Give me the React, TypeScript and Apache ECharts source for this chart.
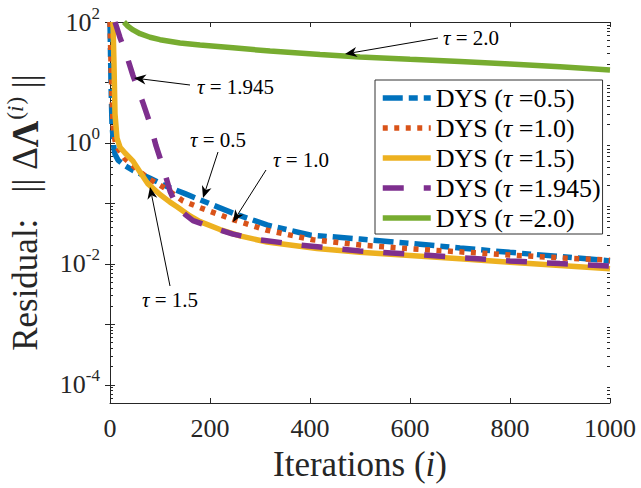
import React, { useEffect, useRef } from 'react';
import * as echarts from 'echarts';

const FONT = 'Liberation Serif';
const AX = '#262626';

// ---- data ----
const tauLabels = ['0.5', '1.0', '1.5', '1.945', '2.0'];
const seriesColors = ['#0072BD', '#D95319', '#EDB120', '#7E2F8E', '#77AC30'];

const iterTau05 = [0, 2, 4, 8, 10, 16, 30, 46, 80, 114, 150, 180, 246, 314, 400, 500, 600, 700, 800, 900, 1000];
const resTau05 = [100, 10, 2, 0.8, 0.65, 0.52, 0.42, 0.35, 0.26, 0.19, 0.145, 0.115, 0.069, 0.044, 0.03, 0.0257, 0.0219, 0.0183, 0.0155, 0.0132, 0.0112];

const iterTau10 = [0, 3, 6, 10, 14, 30, 60, 80, 114, 146, 180, 246, 314, 406, 500, 600, 700, 800, 900, 1000];
const resTau10 = [100, 10, 2, 1.1, 0.85, 0.55, 0.33, 0.25, 0.17, 0.11, 0.085, 0.054, 0.036, 0.025, 0.0205, 0.0178, 0.0158, 0.014, 0.0126, 0.0115];

const iterTau15 = [6, 8, 10, 14, 20, 30, 46, 60, 76, 100, 120, 134, 160, 180, 220, 260, 314, 414, 500, 600, 700, 800, 900, 1000];
const resTau15 = [100, 20, 3, 1.2, 0.85, 0.68, 0.5, 0.33, 0.21, 0.14, 0.105, 0.088, 0.062, 0.05, 0.037, 0.029, 0.023, 0.018, 0.0155, 0.0138, 0.0121, 0.0106, 0.0094, 0.0083];

const iterTau1945 = [10, 20, 30, 46, 66, 80, 92, 106, 120, 134, 150, 166, 200, 246, 300, 380, 500, 600, 700, 800, 900, 1000];
const resTau1945 = [100, 55, 34, 13, 4.6, 2.1, 0.9, 0.4, 0.16, 0.088, 0.066, 0.052, 0.041, 0.031, 0.025, 0.0205, 0.0163, 0.0145, 0.0127, 0.0112, 0.0101, 0.0092];

const iterTau20 = [28, 36, 46, 60, 80, 100, 140, 180, 246, 320, 420, 500, 600, 700, 800, 900, 1000];
const resTau20 = [100, 85, 74, 64, 56, 51, 45, 41.5, 37.5, 33, 29, 26.4, 24.2, 22.2, 20.2, 18.2, 16.1];

const xTicks = [0, 200, 400, 600, 800, 1000];
const yLabelTicks = [1e-4, 1e-2, 1, 100];
const yDecadeTicks = [1e-4, 1e-3, 1e-2, 1e-1, 1, 10, 100];
const yMin = 5e-5;
const yMax = 100;

const seriesIters = [iterTau05, iterTau10, iterTau15, iterTau1945, iterTau20];
const seriesRes = [resTau05, resTau10, resTau15, resTau1945, resTau20];
const lineTypes: any[] = [[20, 6, 9, 6], [5, 6.5], 'solid', [21, 20], 'solid'];

function minorTicks(): number[] {
  const out: number[] = [];
  for (let e = -5; e <= 1; e++) {
    for (let k = 2; k <= 9; k++) {
      const v = k * Math.pow(10, e);
      if (v >= yMin && v <= yMax) out.push(v);
    }
  }
  return out;
}

function arrow(x1: number, y1: number, x2: number, y2: number) {
  const len = 12, half = 5, notch = 3.5;
  const dx = x2 - x1, dy = y2 - y1;
  const L = Math.hypot(dx, dy);
  const ux = dx / L, uy = dy / L;
  const px = -uy, py = ux;
  const bx = x2 - ux * len, by = y2 - uy * len;
  const nx = x2 - ux * (len - notch), ny = y2 - uy * (len - notch);
  return [
    { type: 'line', shape: { x1, y1, x2: nx, y2: ny }, style: { stroke: '#000', lineWidth: 1 }, z: 100 },
    {
      type: 'polygon',
      shape: { points: [[x2, y2], [bx + px * half, by + py * half], [nx, ny], [bx - px * half, by - py * half]] },
      style: { fill: '#000' },
      z: 100,
    },
  ];
}

const annRich = {
  t: { fontFamily: FONT, fontSize: 21, fontStyle: 'italic', fill: '#000' },
  r: { fontFamily: FONT, fontSize: 21, fill: '#000' },
};
function annText(x: number, y: number, val: string) {
  return {
    type: 'text',
    x,
    y,
    z: 100,
    style: {
      text: `{t|τ}{r| = ${val}}`,
      rich: annRich,
      verticalAlign: 'middle',
      align: 'left',
      fontFamily: FONT,
      fontSize: 21,
      fill: '#000',
    },
  };
}

export default function App() {
  const ref = useRef<HTMLDivElement>(null);
  useEffect(() => {
    if (!ref.current) return;
    const chart = echarts.init(ref.current, undefined, { renderer: 'svg' });
    const gridRect = { left: 110, right: 31, top: 22, bottom: 85, containLabel: false, outerBoundsMode: 'none' };
    const supLabel = (v: number) => `{b|10}{s|${Math.round(Math.log10(v))}}`;
    const labelRich = {
      b: { fontFamily: FONT, fontSize: 26, color: AX },
      s: { fontFamily: FONT, fontSize: 17, color: AX, padding: [0, 0, 18, 0] },
    };
    const series = seriesIters.map((it, i) => ({
      name: `DYS (τ =${tauLabels[i]})`,
      type: 'line',
      xAxisIndex: 0,
      yAxisIndex: 0,
      data: it.map((x, j) => [x, seriesRes[i][j]]),
      showSymbol: false,
      symbol: 'none',
      smooth: false,
      lineStyle: { width: 5.5, color: seriesColors[i], type: lineTypes[i], cap: 'butt' },
      itemStyle: { color: seriesColors[i] },
      z: 2 + i,
    }));

    const graphic: any[] = [
      annText(443, 38, '2.0'),
      ...arrow(438, 38, 345, 54),
      annText(197, 87, '1.945'),
      ...arrow(190, 85, 134, 78),
      annText(190, 140, '0.5'),
      ...arrow(218, 152, 203, 198),
      annText(273, 160, '1.0'),
      ...arrow(266, 170, 233, 222),
      annText(142, 300, '1.5'),
      ...arrow(170, 286, 150, 187),
    ];

    chart.setOption({
      animation: false,
      backgroundColor: '#fff',
      textStyle: { fontFamily: FONT },
      grid: [gridRect, gridRect],
      xAxis: [
        {
          type: 'value',
          gridIndex: 0,
          position: 'bottom',
          min: 0,
          max: 1000,
          interval: 200,
          name: '{r|Iterations (}{i|i}{r|)}',
          nameLocation: 'middle',
          nameGap: 44,
          nameTextStyle: {
            fontFamily: FONT,
            rich: {
              r: { fontFamily: FONT, fontSize: 35, color: AX },
              i: { fontFamily: FONT, fontSize: 35, fontStyle: 'italic', color: AX },
            },
          },
          axisLine: { show: true, lineStyle: { color: AX, width: 1 } },
          axisTick: { show: true, inside: true, length: 5, lineStyle: { color: AX }, customValues: xTicks },
          axisLabel: {
            fontFamily: FONT,
            fontSize: 26,
            color: AX,
            margin: 12,
            customValues: xTicks,
            formatter: (v: number) => `{n|${v}}`,
            rich: { n: { fontFamily: FONT, fontSize: 26, color: AX } },
          },
          splitLine: { show: false },
        },
        {
          type: 'value',
          gridIndex: 0,
          position: 'top',
          min: 0,
          max: 1000,
          interval: 200,
          axisLine: { show: true, lineStyle: { color: AX, width: 1 } },
          axisTick: { show: true, inside: true, length: 5, lineStyle: { color: AX }, customValues: xTicks },
          axisLabel: { show: false },
          splitLine: { show: false },
        },
        {
          type: 'value',
          gridIndex: 1,
          min: 0,
          max: 1000,
          show: false,
        },
      ],
      yAxis: [
        {
          type: 'log',
          gridIndex: 0,
          position: 'left',
          min: yMin,
          max: yMax,
          name: '{r|Residual:   || }{r|Δ}{b|Λ}{s|(}{si|i}{s|)}{r| ||}',
          nameLocation: 'middle',
          nameGap: 64,
          nameTextStyle: {
            fontFamily: FONT,
            rich: {
              r: { fontFamily: FONT, fontSize: 35, color: AX, lineHeight: 42 },
              b: { fontFamily: FONT, fontSize: 37, fontWeight: 'bold', color: AX, lineHeight: 42 },
              s: { fontFamily: FONT, fontSize: 23, color: AX, verticalAlign: 'top', lineHeight: 24, padding: [0, 0, 0, 1] },
              si: { fontFamily: FONT, fontSize: 23, fontStyle: 'italic', color: AX, verticalAlign: 'top', lineHeight: 24 },
            },
          },
          axisLine: { show: true, lineStyle: { color: AX, width: 1 } },
          axisTick: { show: true, inside: true, length: 5, lineStyle: { color: AX }, customValues: yDecadeTicks },
          axisLabel: { margin: 10, fontFamily: FONT, formatter: supLabel, rich: labelRich, customValues: yLabelTicks },
          splitLine: { show: false },
        },
        {
          type: 'log',
          gridIndex: 0,
          position: 'right',
          min: yMin,
          max: yMax,
          axisLine: { show: true, lineStyle: { color: AX, width: 1 } },
          axisTick: { show: true, inside: true, length: 5, lineStyle: { color: AX }, customValues: yDecadeTicks },
          axisLabel: { show: false },
          splitLine: { show: false },
        },
        {
          type: 'log',
          gridIndex: 1,
          position: 'left',
          min: yMin,
          max: yMax,
          axisLine: { show: false },
          axisTick: { show: true, inside: true, length: 3, lineStyle: { color: AX }, customValues: minorTicks() },
          axisLabel: { show: false },
          splitLine: { show: false },
        },
        {
          type: 'log',
          gridIndex: 1,
          position: 'right',
          min: yMin,
          max: yMax,
          axisLine: { show: false },
          axisTick: { show: true, inside: true, length: 3, lineStyle: { color: AX }, customValues: minorTicks() },
          axisLabel: { show: false },
          splitLine: { show: false },
        },
      ],
      legend: {
        show: true,
        orient: 'vertical',
        left: 375,
        top: 80,
        backgroundColor: '#fff',
        borderColor: '#333',
        borderWidth: 1,
        borderRadius: 0,
        padding: [3, 2, 1, 5],
        itemGap: 0,
        itemWidth: 48,
        itemHeight: 30,
        selectedMode: false,
        itemStyle: { opacity: 0, borderWidth: 0 },
        lineStyle: { width: 5.5 },
        formatter: (name: string) => name.replace('τ', '{t|τ}'),
        textStyle: {
          fontFamily: FONT,
          fontSize: 26,
          color: '#000',
          lineHeight: 30,
          rich: {
            t: { fontFamily: FONT, fontSize: 26, fontStyle: 'italic', color: '#000', lineHeight: 30 },
          },
        },
        data: series.map((s) => s.name),
      },
      series,
      graphic,
    });
    return () => chart.dispose();
  }, []);
  return <div ref={ref} style={{ position: 'fixed', left: 0, top: 0, width: 641, height: 488 }} />;
}
